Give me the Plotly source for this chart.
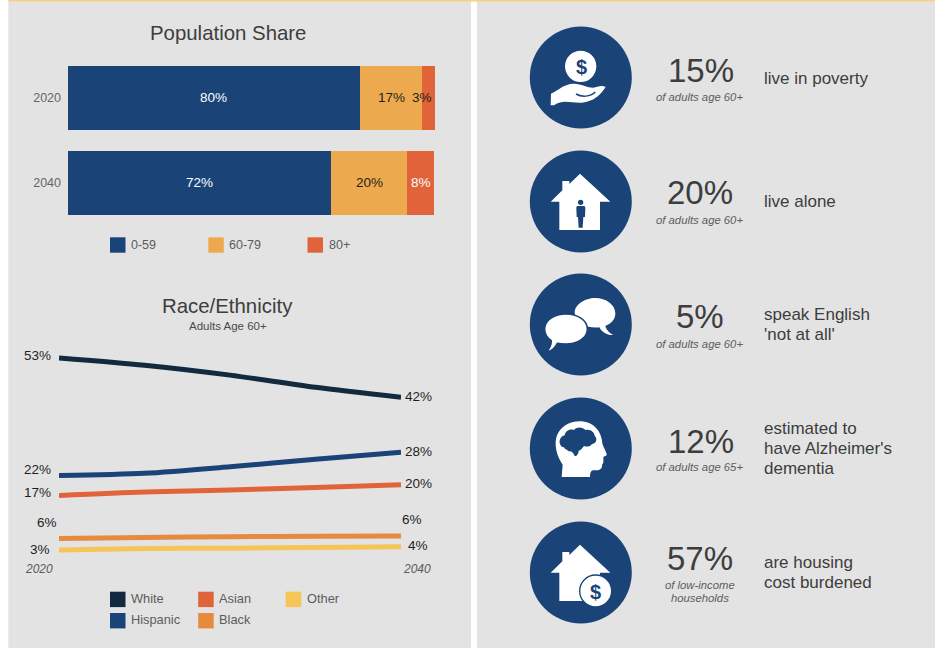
import re
import plotly.graph_objects as go

W, H = 935, 648

# ---------- data ----------
bar_years = ["2020", "2040"]
bar_groups = ["0-59", "60-79", "80+"]
share_0_59 = [79.6, 71.7]
share_60_79 = [16.9, 20.7]
share_80 = [3.5, 7.4]
share_labels = [["80%", "72%"], ["17%", "20%"], ["3%", "8%"]]

line_years = [2020, 2025, 2030, 2035, 2040]
white = [52.9, 51.0, 48.4, 45.2, 42.6]
hispanic = [22.1, 22.7, 24.4, 26.4, 28.2]
asian = [16.9, 17.8, 18.3, 19.0, 19.7]
black = [5.6, 5.9, 6.1, 6.2, 6.3]
other = [2.6, 3.0, 3.1, 3.3, 3.5]
start_labels = ["53%", "22%", "17%", "6%", "3%"]
end_labels = ["42%", "28%", "20%", "6%", "4%"]

stat_values = ["15%", "20%", "5%", "12%", "57%"]
stat_sub = [["of adults age 60+"], ["of adults age 60+"], ["of adults age 60+"],
            ["of adults age 65+"], ["of low-income", "households"]]
stat_text = [["live in poverty"], ["live alone"], ["speak English", "'not at all'"],
             ["estimated to", "have Alzheimer's", "dementia"], ["are housing", "cost burdened"]]

# ---------- style ----------
FONT = "Liberation Sans"
NAVY = "#1a4378"
ORANGE = "#eda94e"
RED = "#e0633a"
DARK = "#12293f"
DORANGE = "#e68a3c"
YELLOW = "#f5c555"
PANEL = "#e3e3e3"
TXT = "#3d3d3d"
GRAY = "#5c5c5c"
INK = "#1f1f1f"


def px(x):
    return x / W


def py(y):
    return 1 - y / H


fig = go.Figure()
shapes = []
ann = []


def text(x, y, s, size, color=TXT, anchor="center", italic=False, bold=False):
    ann.append(dict(x=px(x), y=py(y), xref="paper", yref="paper", text=s, showarrow=False,
                    xanchor=anchor, yanchor="middle",
                    font=dict(family=FONT, size=size, color=color,
                              style="italic" if italic else "normal",
                              weight="bold" if bold else "normal")))


def rect(x0, y0, x1, y1, color, layer="below"):
    shapes.append(dict(type="rect", xref="paper", yref="paper", x0=px(x0), x1=px(x1),
                       y0=py(y0), y1=py(y1), fillcolor=color, line_width=0, layer=layer))


def circle(cx, cy, r, color):
    shapes.append(dict(type="circle", xref="paper", yref="paper", x0=px(cx - r), x1=px(cx + r),
                       y0=py(cy - r), y1=py(cy + r), fillcolor=color, line_width=0, layer="above"))


def path(ox, oy, d, fill=None, stroke=None, width=0):
    """d is in 3x crop coordinates, origin (ox, oy) in page pixels"""
    def conv(m):
        return f"{px(ox + float(m.group(1)) / 3):.5f},{py(oy + float(m.group(2)) / 3):.5f}"
    s = re.sub(r"(-?[\d.]+),(-?[\d.]+)", conv, d)
    item = dict(type="path", xref="paper", yref="paper", path=s, layer="above",
                line=dict(width=width, color=stroke if stroke else "rgba(0,0,0,0)"))
    if fill:
        item["fillcolor"] = fill
    shapes.append(item)


# ---------- background ----------
rect(8.3, 1, 471, H, PANEL)
rect(477, 1, W, H, PANEL)
rect(8.3, 0, W, 1.5, "#f5d183")

# ---------- stacked bars ----------
for name, vals, col in zip(bar_groups, [share_0_59, share_60_79, share_80], [NAVY, ORANGE, RED]):
    fig.add_trace(go.Bar(y=bar_years, x=vals, name=name, orientation="h", marker=dict(color=col, line_width=0),
                         xaxis="x", yaxis="y", showlegend=False))

stack = [share_0_59, share_60_79, share_80]
label_cols = [["white", "white"], [INK, INK], [INK, "white"]]
cat_order = bar_years[::-1]
for j, yr in enumerate(bar_years):
    left = 0
    for i in range(3):
        v = stack[i][j]
        # annotations on a category axis are placed by category serial number
        ann.append(dict(x=left + v / 2, y=cat_order.index(yr), xref="x", yref="y", text=share_labels[i][j],
                        showarrow=False, xanchor="center", yanchor="middle", yshift=1,
                        xshift=-6.5 if share_labels[i][j] == "3%" else 0,
                        font=dict(family=FONT, size=13.5, color=label_cols[i][j])))
        left += v

# ---------- lines ----------
series = [("White", white, DARK), ("Hispanic", hispanic, NAVY), ("Asian", asian, RED),
          ("Black", black, DORANGE), ("Other", other, YELLOW)]
for name, vals, col in series:
    fig.add_trace(go.Scatter(x=line_years, y=vals, name=name, mode="lines",
                             line=dict(color=col, width=5, shape="spline", smoothing=0.8),
                             xaxis="x2", yaxis="y2", showlegend=False))

# label offsets from the line ends (pixels): shift x, shift y, anchor
start_off = [(-6, 2), (-6, 6), (-6, 3), (0, 16), (-7, 1)]
end_off = [(2, 0.5), (2, 1), (2, 1), (-1, 16), (5, 1.5)]
for (name, vals, col), sl, el, so, eo in zip(series, start_labels, end_labels, start_off, end_off):
    ann.append(dict(x=line_years[0], y=vals[0], xref="x2", yref="y2", text=sl, showarrow=False,
                    xanchor="right", yanchor="middle", xshift=so[0], yshift=so[1],
                    font=dict(family=FONT, size=13.5, color=INK)))
    ann.append(dict(x=line_years[-1], y=vals[-1], xref="x2", yref="y2", text=el, showarrow=False,
                    xanchor="left", yanchor="middle", xshift=eo[0], yshift=eo[1],
                    font=dict(family=FONT, size=13.5, color=INK)))

# ---------- titles / axis text ----------
text(227.5, 33, "Population Share", 20.4)
text(227.5, 306, "Race/Ethnicity", 20.4)
text(227.5, 326, "Adults Age 60+", 11.5, "#4a4a4a")
text(39, 569, "2020", 12, GRAY, italic=True)
text(417, 569, "2040", 12, GRAY, italic=True)

# ---------- legends ----------
for name, x, col in zip(bar_groups, [110, 208.3, 307.5], [NAVY, ORANGE, RED]):
    rect(x, 237.3, x + 15.5, 252.7, col, layer="above")
    text(x + 19, 245.5, name, 12.5, GRAY, anchor="left")

legend2 = [("White", 110, 591.7, DARK), ("Asian", 198.2, 591.7, RED), ("Other", 285.7, 591.7, YELLOW),
           ("Hispanic", 110, 613, NAVY), ("Black", 198.2, 613, DORANGE)]
for name, x, y, col in legend2:
    rect(x, y, x + 15.5, y + 15.4, col, layer="above")
    text(x + 19, y + 6.8, name, 12.8, GRAY, anchor="left")

# ---------- right panel ----------
centers = [77.5, 201.5, 324.5, 448.5, 572.5]
big_y = [70, 192.5, 316.5, 441.5, 558]
big_x = [701, 700, 699.7, 701, 700]
sub_y = [[97], [220], [344], [467], [585, 598]]
txt_y = [[78.5], [201.5], [314.5], [428.5], [562.5]]
for i in range(5):
    circle(580.8, centers[i], 51, NAVY)
    text(big_x[i], big_y[i], stat_values[i], 33, TXT)
    for y, s in zip(sub_y[i], stat_sub[i]):
        text(699.5, y, s, 11.3, GRAY, italic=True)
    for k, s in enumerate(stat_text[i]):
        text(762, txt_y[i][0] + 20 * k, s, 17, TXT, anchor="left")

HOUSE = "M120,38 L211,122 L180,122 L180,207 L58,207 L58,122 L32,122 L67,88 L67,60 L88,60 L88,69 Z"

# icon 1: coin over a hand
circle(540 + 122 / 3, 37 + 88 / 3, 47 / 3, "white")
text(540 + 123 / 3, 37 + 89 / 3, "$", 20, NAVY, bold=True)
path(540, 37, "M32,205 L33,170 C58,158 72,141 100,140 C122,139 140,152 160,152 "
              "C172,149 186,143 197,150 C186,166 168,194 122,197 C92,198 68,187 42,205 Z", fill="white")
path(540, 37, "M108,171 C125,181 150,180 166,165", stroke=NAVY, width=1.5)

# icon 2: house with a person
path(540, 161, HOUSE, fill="white")
circle(540 + 122 / 3, 161 + 124 / 3, 8 / 3, NAVY)
path(540, 161, "M112,135 L132,135 C135,135 136,138 136,142 L135,168 L130,168 L128,200 L116,200 "
               "L114,168 L110,168 L109,142 C109,138 110,135 112,135 Z", fill=NAVY)

# icon 3: speech bubbles
path(540, 284, "M104,86 C104,62 134,42 166,42 C198,42 226,62 226,88 C226,108 212,120 196,126 "
               "C198,136 208,148 220,153 C204,155 186,146 178,130 C138,134 104,114 104,86 Z",
     fill="white", stroke=NAVY, width=0)
path(540, 284, "M14,135 C14,108 44,90 78,90 C112,90 142,108 142,135 C142,162 112,180 78,180 "
               "C68,180 60,180 52,178 C46,190 34,202 20,203 C28,194 34,182 34,170 C22,162 14,150 14,135 Z",
     fill="white", stroke=NAVY, width=1.5)

# icon 4: head with brain
path(540, 408, "M65,207 L68,170 C50,145 42,110 50,85 C60,55 90,38 125,40 C160,42 185,70 187,105 "
               "C188,115 202,135 200,142 L190,147 C190,155 192,165 186,170 C188,180 180,188 165,187 "
               "C155,186 150,190 150,207 Z", fill="white")
path(540, 408, "M62,112 C54,100 62,84 74,82 C76,68 92,62 102,66 C112,54 130,58 136,66 C150,62 164,72 164,84 "
               "C174,92 168,108 156,108 C150,118 138,116 132,114 C126,122 122,128 116,128 C116,136 110,146 104,144 "
               "C100,134 94,128 86,130 C80,124 74,124 72,118 C68,118 64,116 62,112 Z", fill=NAVY)

# icon 5: house with a coin
path(540, 532, HOUSE, fill="white")
circle(540 + 167 / 3, 532 + 177 / 3, 50 / 3, NAVY)
circle(540 + 167 / 3, 532 + 177 / 3, 46 / 3, "white")
text(540 + 165 / 3, 532 + 179 / 3, "$", 20, NAVY, bold=True)

# ---------- layout ----------
fig.update_layout(
    width=W, height=H, margin=dict(l=0, r=0, t=0, b=0, autoexpand=False),
    paper_bgcolor="white", plot_bgcolor="rgba(0,0,0,0)", barmode="stack", bargap=0.247,
    showlegend=False, shapes=shapes, annotations=ann,
    font=dict(family=FONT),
    xaxis=dict(domain=[px(67.5), px(435)], range=[0, 100], visible=False, anchor="y"),
    yaxis=dict(domain=[py(225.5), py(55.5)], type="category", categoryorder="array",
               categoryarray=cat_order, range=[-0.5, 1.5], anchor="x", showgrid=False, zeroline=False,
               showline=False, ticks="outside", ticklen=3, tickcolor="rgba(0,0,0,0)",
               tickfont=dict(family=FONT, size=12.5, color="#666666")),
    xaxis2=dict(domain=[px(59), px(401)], range=[2020, 2040], visible=False, anchor="y2"),
    yaxis2=dict(domain=[py(560), py(340)], range=[0, 220 / 3.82], visible=False, anchor="x2"),
)

fig.write_html("out.html", config=dict(displayModeBar=False),
               post_script="document.body.style.margin='0';")
